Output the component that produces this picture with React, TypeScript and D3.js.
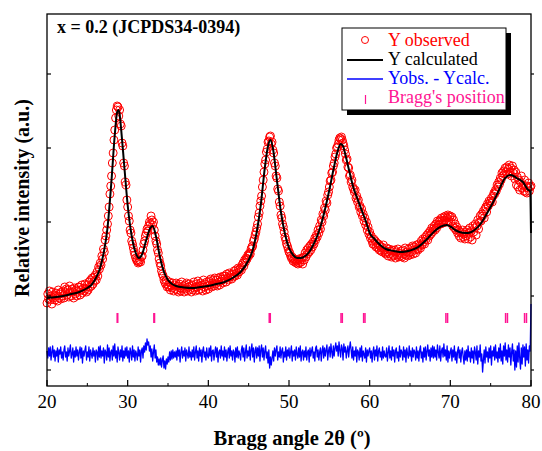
import React from "react";
import * as d3 from "d3";

const ANGLE_START = 20;
const OBS_STEP = 0.1;
const DIFF_STEP = 0.1;

const OBS_INTENSITY = [
  830, 920, 870, 950, 860, 900, 820, 940, 880, 910,
  860, 930, 900, 850, 960, 880, 920, 870, 940, 900,
  950, 880, 990, 930, 970, 910, 960, 890, 1000, 940,
  900, 970, 940, 880, 980, 920, 960, 900, 950, 990,
  990, 910, 960, 1010, 930, 980, 950, 1020, 970, 940,
  1010, 960, 1040, 990, 1060, 1000, 1080, 1020, 1090, 1050,
  1110, 1060, 1140, 1100, 1190, 1170, 1230, 1210, 1300, 1270,
  1370, 1340, 1460, 1500, 1560, 1620, 1700, 1790, 1920, 2000,
  2100, 2230, 2330, 2460, 2560, 2680, 2760, 2800, 2790, 2700,
  2760, 2620, 2600, 2430, 2400, 2230, 2200, 2040, 2010, 1860,
  1790, 1700, 1650, 1560, 1530, 1450, 1420, 1380, 1340, 1310,
  1280, 1260, 1250, 1230, 1240, 1260, 1240, 1290, 1300, 1360,
  1420, 1450, 1500, 1530, 1570, 1550, 1600, 1640, 1620, 1700,
  1660, 1610, 1640, 1560, 1500, 1450, 1420, 1360, 1330, 1270,
  1230, 1200, 1150, 1120, 1100, 1060, 1040, 1020, 1060, 990,
  1010, 990, 1040, 960, 1000, 980, 1030, 950, 1010, 970,
  1030, 960, 1000, 940, 1020, 980, 950, 1040, 970, 1000,
  940, 1010, 970, 1030, 950, 990, 1020, 960, 1000, 940,
  1010, 960, 1040, 980, 950, 1020, 990, 1050, 960, 1000,
  1030, 970, 1010, 950, 1060, 990, 1020, 960, 1040, 1000,
  970, 1050, 1010, 1070, 990, 1030, 1060, 1000, 1080, 1020,
  1060, 1000, 1080, 1040, 1010, 1090, 1050, 1070, 1030, 1100,
  1070, 1100, 1040, 1120, 1080, 1060, 1130, 1090, 1110, 1070,
  1120, 1090, 1150, 1100, 1160, 1130, 1110, 1180, 1140, 1170,
  1180, 1160, 1210, 1230, 1200, 1260, 1240, 1280, 1270, 1310,
  1300, 1330, 1320, 1370, 1390, 1400, 1450, 1470, 1510, 1540,
  1580, 1620, 1690, 1730, 1800, 1850, 1900, 1990, 2060, 2140,
  2220, 2260, 2340, 2370, 2440, 2450, 2490, 2500, 2420, 2440,
  2360, 2330, 2230, 2200, 2100, 2080, 1970, 1950, 1840, 1800,
  1710, 1680, 1620, 1590, 1540, 1490, 1460, 1420, 1400, 1370,
  1340, 1330, 1300, 1280, 1290, 1250, 1270, 1240, 1260, 1230,
  1250, 1220, 1270, 1230, 1260, 1240, 1280, 1220, 1290, 1260,
  1330, 1290, 1360, 1320, 1380, 1340, 1400, 1360, 1420, 1390,
  1440, 1420, 1480, 1460, 1510, 1490, 1560, 1530, 1600, 1570,
  1660, 1640, 1720, 1700, 1780, 1760, 1850, 1830, 1910, 1940,
  1990, 2050, 2060, 2130, 2140, 2200, 2230, 2290, 2320, 2380,
  2390, 2420, 2460, 2480, 2470, 2490, 2460, 2430, 2400, 2360,
  2320, 2260, 2270, 2190, 2180, 2100, 2110, 2040, 2060, 1990,
  1970, 1940, 1960, 1880, 1900, 1840, 1860, 1790, 1800, 1740,
  1770, 1700, 1720, 1650, 1680, 1610, 1640, 1560, 1590, 1520,
  1540, 1480, 1500, 1450, 1420, 1470, 1410, 1450, 1390, 1430,
  1380, 1420, 1360, 1400, 1350, 1390, 1340, 1410, 1360, 1330,
  1320, 1380, 1340, 1300, 1370, 1320, 1350, 1290, 1360, 1310,
  1300, 1360, 1280, 1340, 1310, 1370, 1290, 1330, 1300, 1350,
  1290, 1360, 1320, 1280, 1380, 1310, 1340, 1300, 1370, 1330,
  1310, 1380, 1340, 1400, 1320, 1390, 1360, 1330, 1410, 1370,
  1360, 1420, 1400, 1380, 1450, 1410, 1470, 1440, 1420, 1490,
  1470, 1510, 1460, 1530, 1500, 1550, 1520, 1580, 1540, 1570,
  1600, 1560, 1620, 1580, 1650, 1610, 1640, 1660, 1620, 1680,
  1650, 1630, 1690, 1660, 1700, 1640, 1680, 1710, 1650, 1690,
  1700, 1640, 1690, 1600, 1660, 1580, 1620, 1560, 1590, 1530,
  1560, 1500, 1540, 1480, 1530, 1560, 1490, 1520, 1470, 1540,
  1500, 1560, 1470, 1530, 1580, 1490, 1550, 1460, 1600, 1540,
  1580, 1620, 1510, 1600, 1660, 1570, 1640, 1700, 1650, 1720,
  1700, 1750, 1680, 1770, 1790, 1740, 1820, 1800, 1850, 1830,
  1850, 1880, 1840, 1900, 1930, 1920, 1960, 1950, 2010, 1990,
  2040, 2020, 2080, 2060, 2130, 2100, 2150, 2120, 2180, 2140,
  2190, 2120, 2170, 2210, 2140, 2180, 2100, 2200, 2130, 2160,
  2070, 2140, 2010, 2090, 1990, 2060, 1960, 2040, 2100, 1980,
  2010, 1950, 2060, 1940, 2000, 1930, 1980, 2030, 1950, 1990,
  2000,
];

const CALC_ANGLE = [
  20, 22, 23, 24, 25, 25.5, 26, 26.5, 27, 27.5, 28, 28.4, 28.7, 28.85, 29.0, 29.2, 29.6, 30, 30.5, 31,
  31.4, 31.8, 32.3, 32.8, 33.1, 33.5, 34, 34.5, 35, 35.5, 36, 37, 38, 39, 40, 41, 42, 43, 44, 45,
  45.5, 46, 46.5, 47, 47.4, 47.7, 48, 48.5, 49, 49.5, 50, 50.5, 51, 51.5, 52, 52.5, 53, 53.5, 54, 54.5,
  55, 55.5, 56, 56.4, 56.7, 57, 57.5, 58, 58.4, 59, 59.6, 60, 60.6, 61.3, 62, 63, 63.7, 64.5, 65, 66,
  67, 68, 68.8, 69.5, 70, 70.7, 71.5, 72.2, 73, 73.7, 74.5, 75.3, 76, 76.8, 77.5, 78.3, 79, 79.6, 79.9, 80,
];
const CALC_INTENSITY = [
  880, 900, 920, 940, 980, 1010, 1070, 1160, 1320, 1580, 2060, 2510, 2740, 2760, 2720, 2560, 2180, 1810, 1500, 1330,
  1280, 1320, 1460, 1580, 1600, 1500, 1290, 1140, 1060, 1020, 1000, 985, 980, 990, 1000, 1020, 1040, 1080, 1140, 1260,
  1360, 1540, 1810, 2180, 2400, 2460, 2380, 2060, 1740, 1520, 1380, 1310, 1280, 1280, 1300, 1340, 1410, 1500, 1620, 1780,
  1960, 2160, 2340, 2420, 2400, 2310, 2140, 1980, 1890, 1760, 1630, 1530, 1470, 1410, 1370, 1350, 1340, 1345, 1355, 1388,
  1460, 1545, 1594, 1611, 1595, 1555, 1533, 1530, 1560, 1615, 1720, 1838, 1955, 2080, 2110, 2075, 2040, 1965, 1945, 1530,
];

const DIFF_RESIDUAL = [
  30, -40, 60, -20, 70, -60, 20, 80, -30, 40, -70, 30, -20, 60, -80, 40, 0, 70, -40, 20,
  -60, 40, 80, -30, 20, -70, 60, -20, 30, 90, -40, 0, 60, -80, 30, -30, 70, -20, 40, -60,
  20, 70, -40, 60, -90, 30, -20, 40, 80, -60, 20, -30, 70, -70, 40, 0, -40, 60, -20, 30,
  -80, 40, 20, -60, 70, -30, 80, -40, 30, -20, 60, -90, 40, 20, -60, 90, -30, 60, -70, 20,
  40, -60, 80, -20, 100, -40, 30, -80, 70, 20, -60, 40, -30, 80, -70, 30, -40, 60, -20, 70,
  -40, 30, -80, 60, 20, -60, 80, -30, 40, -70, 30, 0, -60, 70, -20, 40, -80, 30, 60, -40,
  80, 20, 110, 40, 150, 90, 120, 30, 80, -30, 50, -70, 20, 90, -40, 40, -80, -30, -110, -50,
  -110, -40, -130, -60, -20, -140, -70, -150, -50, -100, -30, -80, 20, -60, 30, -50, 40, -40, 20, -30,
  30, -60, 60, -20, 40, -80, 20, 70, -40, 30, -20, 60, -70, 40, 0, -40, 70, -30, 20, -60,
  40, -30, 70, -60, 20, 80, -40, 30, -70, 60, -20, 40, -80, 30, 70, -30, 20, -60, 60, -20,
  -40, 60, -20, 80, -70, 30, 40, -60, 20, 70, -30, 60, -80, 20, 40, -40, 80, -20, 30, -60,
  70, -30, 40, -70, 20, 60, -40, 80, -20, 30, -60, 40, 20, -80, 60, -30, 70, -40, 30, 0,
  -60, 40, 80, -30, 60, -70, 20, 90, -40, 30, -20, 70, -60, 40, 100, -30, 60, -80, 30, 70,
  -40, 60, -20, 80, -70, 40, 90, -30, 60, -60, 30, 80, -40, 20, -90, 40, -140, -30, -110, -40,
  30, -70, 60, -20, 40, 80, -60, 20, -30, 70, -40, 30, 60, -80, 20, -30, 70, -60, 40, -20,
  60, -40, 20, 80, -70, 30, -20, 40, -60, 70, 0, -40, 60, -30, 80, -70, 20, 40, -60, 30,
  -30, 70, -60, 20, 40, -80, 60, -20, 30, 70, -40, 20, -70, 60, 80, -30, 40, -60, 20, 60,
  -70, 30, 80, -40, 60, -20, 40, 90, -60, 30, 70, -30, 100, 20, -40, 80, -20, 60, 110, 30,
  80, -20, 120, 40, -30, 90, 60, -60, 100, 20, 70, -40, 30, 80, -30, 60, 120, 40, -40, 70,
  -60, 30, -20, 70, -80, 40, 20, -60, 60, -30, 80, -70, 30, 0, -40, 60, -80, 40, -20, 30,
  60, -40, 30, -80, 20, 70, -60, 40, -20, 80, -70, 30, 60, -30, 20, -60, 70, -40, 30, -20,
  -30, 60, -70, 20, 80, -40, 30, -60, 70, -20, 40, -80, 30, 60, -40, 20, -70, 80, -30, 40,
  20, -60, 70, -30, 40, -80, 60, 0, -40, 80, -20, 30, -70, 60, -30, 40, 20, -60, 70, -40,
  30, -70, 40, 80, -40, 20, -80, 60, -30, 70, -60, 30, 90, -20, 40, -70, 60, -30, 80, -40,
  70, -30, 40, -60, 90, 20, -40, 80, -70, 30, 60, -30, 100, -20, 40, -60, 80, -80, 30, -40,
  20, 60, -70, 40, -30, 80, -60, 20, -90, 30, 70, -40, 40, -80, 20, 60, -30, -100, 30, -60,
  40, -70, 80, -30, 20, -80, 60, -40, 30, -90, 70, 20, -60, 80, -100, 30, -30, 90, -70, 0,
  -180, -60, 40, -90, 70, -30, 20, -80, 60, -40, 80, -110, 30, -20, 70, -60, 90, -40, 20, -80,
  60, -40, 100, -70, 30, -100, 80, -20, 110, -60, 40, -80, 90, -30, 60, -110, 20, 100, -70, 40,
  -160, 30, -130, 80, -80, 110, -40, -150, 60, -100, 90, -30, 70, -120, 100, -60, 40, -90, 80, 30,
  500,
];
const DIFF_OFFSET = 320;

const BRAGG_POSITIONS = [
  28.7, 28.77, 33.25, 33.33, 47.55, 47.68, 56.45, 56.61, 59.25, 59.42,
  69.45, 69.66, 76.85, 77.08, 79.2, 79.44,
];
const BRAGG_LEVEL = [630, 730];

const X_TICKS = [20, 30, 40, 50, 60, 70, 80];
const X_MINOR_TICKS = [25, 35, 45, 55, 65, 75];
const Y_TICKS = [160, 900, 1640, 2380, 3120];

const TITLE = "x = 0.2 (JCPDS34-0394)";
const LEGEND_LABELS = ["Y observed", "Y calculated", "Yobs. - Ycalc.", "Bragg's position"];
const X_LABEL = "Bragg angle 2θ (º)";
const Y_LABEL = "Relative intensity (a.u.)";

const RED = "#ff0000";
const BLUE = "#0000ff";
const PINK = "#ff1493";
const FONT = "Liberation Serif, Times New Roman, serif";

export default function App() {
  const W = 542, H = 451;
  const L = 47, R = 531, T = 14, B = 386;
  const x = d3.scaleLinear().domain([20, 80]).range([L, R]);
  const y = d3.scaleLinear().domain([0, 3720]).range([B, T]);

  const obs = OBS_INTENSITY.map((v, i) => [ANGLE_START + i * OBS_STEP, v] as [number, number]);
  const calc = CALC_ANGLE.map((a, i) => [a, CALC_INTENSITY[i]] as [number, number]);
  const diff = DIFF_RESIDUAL.map((v, i) => [ANGLE_START + i * DIFF_STEP, v + DIFF_OFFSET] as [number, number]);

  const line = d3.line<[number, number]>().x((d) => x(d[0])).y((d) => y(d[1]));
  const calcPath = d3.line<[number, number]>().x((d) => x(d[0])).y((d) => y(d[1])).curve(d3.curveMonotoneX)(calc) || "";
  const diffPath = line(diff) || "";

  const lx = 342, ly = 28, lw = 164, lh = 82;
  const txt = { fontFamily: FONT };

  return (
    <svg width={W} height={H} style={{ position: "absolute", left: 0, top: 0, background: "#fff" }}>
      <rect x={0} y={0} width={W} height={H} fill="#fff" />
      {obs.map((d, i) => (
        <circle key={i} cx={x(d[0])} cy={y(d[1])} r={4} fill="none" stroke={RED} strokeWidth={1} />
      ))}
      <path d={calcPath} fill="none" stroke="#000" strokeWidth={2} />
      <path d={diffPath} fill="none" stroke={BLUE} strokeWidth={1.3} strokeLinejoin="round" />
      {BRAGG_POSITIONS.map((p, i) => (
        <line key={i} x1={x(p)} x2={x(p)} y1={y(BRAGG_LEVEL[0])} y2={y(BRAGG_LEVEL[1])} stroke={PINK} strokeWidth={1.5} />
      ))}

      <rect x={L} y={T} width={R - L} height={B - T} fill="none" stroke="#000" strokeWidth={1.3} />
      {X_TICKS.map((t) => (
        <g key={t}>
          <line x1={x(t)} x2={x(t)} y1={B} y2={B - 6} stroke="#000" strokeWidth={1.2} />
          <text x={x(t)} y={408} textAnchor="middle" fontSize={19} style={txt}>{t}</text>
        </g>
      ))}
      {X_MINOR_TICKS.map((t) => (
        <line key={t} x1={x(t)} x2={x(t)} y1={B} y2={B - 3} stroke="#000" strokeWidth={1} />
      ))}
      {Y_TICKS.map((t) => (
        <g key={t}>
          <line x1={L} x2={L + 4} y1={y(t)} y2={y(t)} stroke="#000" strokeWidth={1.2} />
          <line x1={R} x2={R + 3} y1={y(t)} y2={y(t)} stroke="#000" strokeWidth={1.2} />
        </g>
      ))}

      <text x={57} y={33} fontSize={18} fontWeight="bold" style={txt}>{TITLE}</text>

      <rect x={lx + 5} y={ly + 5} width={lw} height={lh} fill="#000" />
      <rect x={lx} y={ly} width={lw} height={lh} fill="#fff" stroke="#000" strokeWidth={1} />
      <circle cx={365} cy={40} r={3.5} fill="none" stroke={RED} strokeWidth={1} />
      <line x1={347} x2={383} y1={60} y2={60} stroke="#000" strokeWidth={2} />
      <line x1={347} x2={383} y1={79} y2={79} stroke={BLUE} strokeWidth={1.3} />
      <line x1={365.5} x2={365.5} y1={95} y2={104} stroke={PINK} strokeWidth={1.2} />
      <text x={388} y={46} fontSize={18} fill={RED} style={txt}>{LEGEND_LABELS[0]}</text>
      <text x={388} y={65} fontSize={18} fill="#000" style={txt}>{LEGEND_LABELS[1]}</text>
      <text x={388} y={84} fontSize={18} fill={BLUE} style={txt}>{LEGEND_LABELS[2]}</text>
      <text x={388} y={103} fontSize={18} fill={PINK} style={txt}>{LEGEND_LABELS[3]}</text>

      <text x={292} y={445} textAnchor="middle" fontSize={20.5} fontWeight="bold" style={txt}>{X_LABEL}</text>
      <text transform="translate(29,198) rotate(-90)" textAnchor="middle" fontSize={20} fontWeight="bold" style={txt}>{Y_LABEL}</text>
    </svg>
  );
}
